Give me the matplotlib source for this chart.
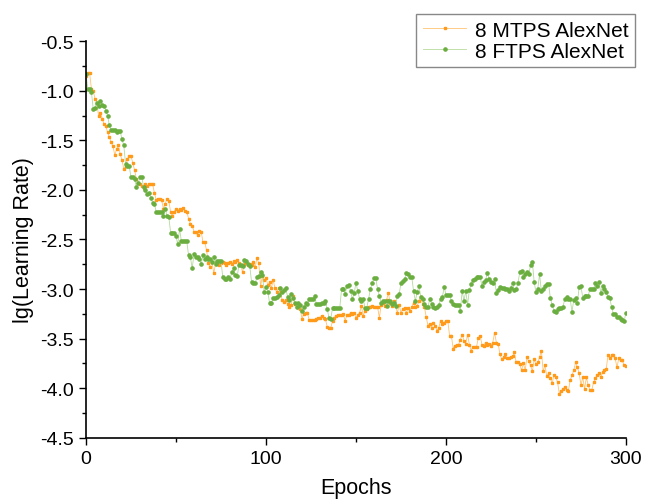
import numpy as np
import matplotlib
matplotlib.use('Agg')
import matplotlib.pyplot as plt
from matplotlib.ticker import MultipleLocator, FormatStrFormatter

plt.rcParams['font.family'] = ['Liberation Sans', 'DejaVu Sans']
plt.rcParams['axes.unicode_minus'] = False

# lg(learning rate) per epoch
epochs = np.arange(0, 301)

mtps = [
    -0.85, -0.82, -0.82, -0.98, -1.00, -1.08, -1.12, -1.25, -1.22, -1.28,
    -1.34, -1.36, -1.42, -1.47, -1.52, -1.56, -1.65, -1.59, -1.55, -1.64,
    -1.70, -1.79, -1.76, -1.69, -1.66, -1.66, -1.73, -1.80, -1.89, -1.93,
    -1.94, -1.96, -1.98, -1.94, -1.96, -1.94, -1.94, -1.94, -2.03, -2.10,
    -2.09, -2.09, -2.10, -2.19, -2.14, -2.09, -2.11, -2.22, -2.26, -2.22,
    -2.19, -2.21, -2.19, -2.20, -2.18, -2.21, -2.22, -2.29, -2.34, -2.36,
    -2.42, -2.42, -2.46, -2.41, -2.42, -2.53, -2.53, -2.61, -2.74, -2.78,
    -2.73, -2.84, -2.74, -2.73, -2.76, -2.74, -2.73, -2.74, -2.76, -2.74,
    -2.73, -2.75, -2.72, -2.73, -2.71, -2.74, -2.76, -2.83, -2.75, -2.73,
    -2.76, -2.75, -2.76, -2.73, -2.78, -2.69, -2.74, -2.97, -2.87, -2.91,
    -2.89, -2.96, -2.93, -2.99, -2.91, -2.99, -3.03, -2.99, -3.03, -3.11,
    -3.13, -3.11, -3.15, -3.18, -3.16, -3.07, -3.15, -3.18, -3.18, -3.20,
    -3.30, -3.25, -3.24, -3.24, -3.31, -3.31, -3.31, -3.31, -3.30, -3.29,
    -3.29, -3.27, -3.29, -3.30, -3.38, -3.39, -3.39, -3.32, -3.29, -3.27,
    -3.26, -3.26, -3.26, -3.25, -3.32, -3.26, -3.26, -3.24, -3.25, -3.24,
    -3.29, -3.26, -3.24, -3.17, -3.27, -3.22, -3.20, -3.18, -3.18, -3.17,
    -3.18, -3.18, -3.18, -3.29, -3.16, -3.14, -3.17, -3.11, -3.04, -3.14,
    -3.17, -3.12, -3.17, -3.24, -3.16, -3.24, -3.20, -3.19, -3.24, -3.19,
    -3.22, -3.18, -3.14, -3.18, -3.17, -3.12, -3.08, -3.15, -3.18, -3.28,
    -3.37, -3.35, -3.39, -3.34, -3.37, -3.42, -3.39, -3.32, -3.35, -3.34,
    -3.32, -3.32, -3.47, -3.47, -3.60, -3.57, -3.56, -3.56, -3.51, -3.46,
    -3.52, -3.55, -3.46, -3.56, -3.62, -3.58, -3.58, -3.58, -3.49, -3.47,
    -3.56, -3.57, -3.54, -3.56, -3.55, -3.57, -3.54, -3.44, -3.54, -3.55,
    -3.66, -3.71, -3.69, -3.66, -3.70, -3.70, -3.69, -3.68, -3.64, -3.74,
    -3.74, -3.76, -3.82, -3.75, -3.82, -3.69, -3.73, -3.77, -3.83, -3.71,
    -3.76, -3.74, -3.69, -3.62, -3.83, -3.77, -3.88, -3.85, -3.90, -3.95,
    -3.87, -3.89, -3.94, -4.06, -4.03, -4.01, -3.99, -4.02, -4.03, -3.92,
    -3.87, -3.82, -3.74, -3.79, -3.85, -3.97, -3.89, -4.01, -3.89, -3.97,
    -4.02, -4.02, -3.94, -3.90, -3.87, -3.85, -3.89, -3.84, -3.82, -3.81,
    -3.67, -3.70, -3.67, -3.67, -3.70, -3.79, -3.70, -3.72, -3.72, -3.77,
    -3.78,
]

ftps = [
    -0.83, -0.98, -0.98, -1.01, -1.18, -1.17, -1.12, -1.15, -1.10, -1.14,
    -1.15, -1.20, -1.25, -1.35, -1.40, -1.40, -1.40, -1.42, -1.41, -1.41,
    -1.49, -1.55, -1.74, -1.76, -1.76, -1.87, -1.87, -1.89, -1.97, -1.93,
    -1.87, -1.87, -1.97, -2.00, -2.04, -2.03, -2.08, -2.13, -2.14, -2.22,
    -2.22, -2.22, -2.22, -2.26, -2.19, -2.26, -2.27, -2.43, -2.43, -2.43,
    -2.47, -2.55, -2.39, -2.52, -2.52, -2.52, -2.52, -2.66, -2.68, -2.79,
    -2.65, -2.68, -2.68, -2.70, -2.75, -2.66, -2.70, -2.68, -2.70, -2.70,
    -2.73, -2.68, -2.75, -2.72, -2.72, -2.72, -2.88, -2.90, -2.90, -2.88,
    -2.90, -2.83, -2.79, -2.86, -2.87, -2.76, -2.76, -2.77, -2.71, -2.72,
    -2.75, -2.77, -2.93, -2.94, -2.94, -2.88, -2.87, -2.83, -2.86, -3.03,
    -2.98, -3.03, -3.14, -3.14, -3.09, -3.09, -3.08, -3.06, -2.99, -3.03,
    -3.01, -2.99, -3.08, -3.11, -3.05, -3.09, -3.14, -3.18, -3.14, -3.16,
    -3.22, -3.18, -3.14, -3.15, -3.10, -3.10, -3.10, -3.07, -3.15, -3.15,
    -3.15, -3.14, -3.14, -3.12, -3.20, -3.29, -3.30, -3.19, -3.19, -3.19,
    -3.19, -3.19, -3.00, -3.00, -3.05, -2.97, -2.96, -3.02, -3.10, -3.04,
    -2.94, -3.02, -3.10, -3.12, -3.10, -3.19, -3.19, -3.10, -3.00, -2.94,
    -2.89, -2.89, -3.00, -3.07, -3.14, -3.12, -3.12, -3.17, -3.12, -3.12,
    -3.15, -3.14, -3.17, -3.07, -3.05, -2.94, -2.92, -2.90, -2.84, -2.85,
    -2.88, -2.88, -3.02, -3.12, -3.03, -2.97, -3.08, -3.10, -3.15, -3.18,
    -3.18, -3.10, -3.15, -3.18, -3.19, -3.18, -3.16, -3.10, -3.08, -2.98,
    -3.06, -3.06, -3.06, -3.12, -3.15, -3.16, -3.16, -3.16, -3.22, -3.02,
    -3.12, -3.02, -3.16, -3.01, -2.95, -2.91, -2.90, -2.88, -2.88, -2.88,
    -2.97, -2.93, -2.91, -2.84, -2.90, -2.93, -2.94, -2.90, -3.04, -3.01,
    -2.98, -2.99, -2.99, -3.00, -3.00, -3.02, -2.99, -2.94, -3.01, -3.00,
    -2.94, -2.83, -2.82, -2.88, -2.85, -2.83, -2.85, -2.76, -2.73, -2.93,
    -3.03, -3.00, -2.85, -3.02, -3.00, -2.97, -2.95, -2.95, -3.09, -3.16,
    -3.22, -3.23, -3.20, -3.19, -3.19, -3.18, -3.10, -3.08, -3.10, -3.10,
    -3.23, -3.11, -3.09, -3.14, -2.98, -2.97, -3.09, -3.07, -3.07, -3.07,
    -3.00, -3.00, -3.00, -2.94, -2.97, -2.93, -3.04, -2.97, -3.00, -3.03,
    -3.08, -3.09, -3.18, -3.25, -3.25, -3.28, -3.28, -3.30, -3.31, -3.32,
    -3.24,
]

fig = plt.figure(figsize=(6.49, 5.02), dpi=100)
ax = fig.add_axes([0.1325, 0.126, 0.832, 0.79])

ax.plot(epochs, mtps, color='#FFC470', lw=0.6, marker='s', ms=2.1,
        mfc='#FF9A1A', mec='#FF9A1A', label='8 MTPS AlexNet')
ax.plot(epochs, ftps, color='#B5DA9C', lw=0.6, marker='o', ms=2.3,
        mfc='#6BAE40', mec='#6BAE40', label='8 FTPS AlexNet')

ax.set_xlim(0, 300)
ax.set_ylim(-4.5, -0.5)
ax.xaxis.set_major_locator(MultipleLocator(100))
ax.xaxis.set_minor_locator(MultipleLocator(50))
ax.yaxis.set_major_locator(MultipleLocator(0.5))
ax.yaxis.set_minor_locator(MultipleLocator(0.25))
ax.yaxis.set_major_formatter(FormatStrFormatter('%.1f'))
ax.tick_params(which='major', direction='out', length=5, width=1, labelsize=14, pad=4)
ax.tick_params(which='minor', direction='out', length=3, width=1)
ax.spines['top'].set_visible(False)
ax.spines['right'].set_visible(False)
for s in ('left', 'bottom'):
    ax.spines[s].set_linewidth(1.2)

ax.set_xlabel('Epochs', fontsize=15.5, labelpad=7)
ax.set_ylabel('lg(Learning Rate)', fontsize=15.5, labelpad=4)

leg = fig.legend(loc='upper right', bbox_to_anchor=(0.994, 0.99), fontsize=15,
                 fancybox=False, edgecolor='#888888', framealpha=1,
                 handlelength=2.1, borderpad=0.3, labelspacing=0.1, handletextpad=0.4)
leg.get_frame().set_linewidth(1.0)

fig.savefig('out.png', dpi=100)
